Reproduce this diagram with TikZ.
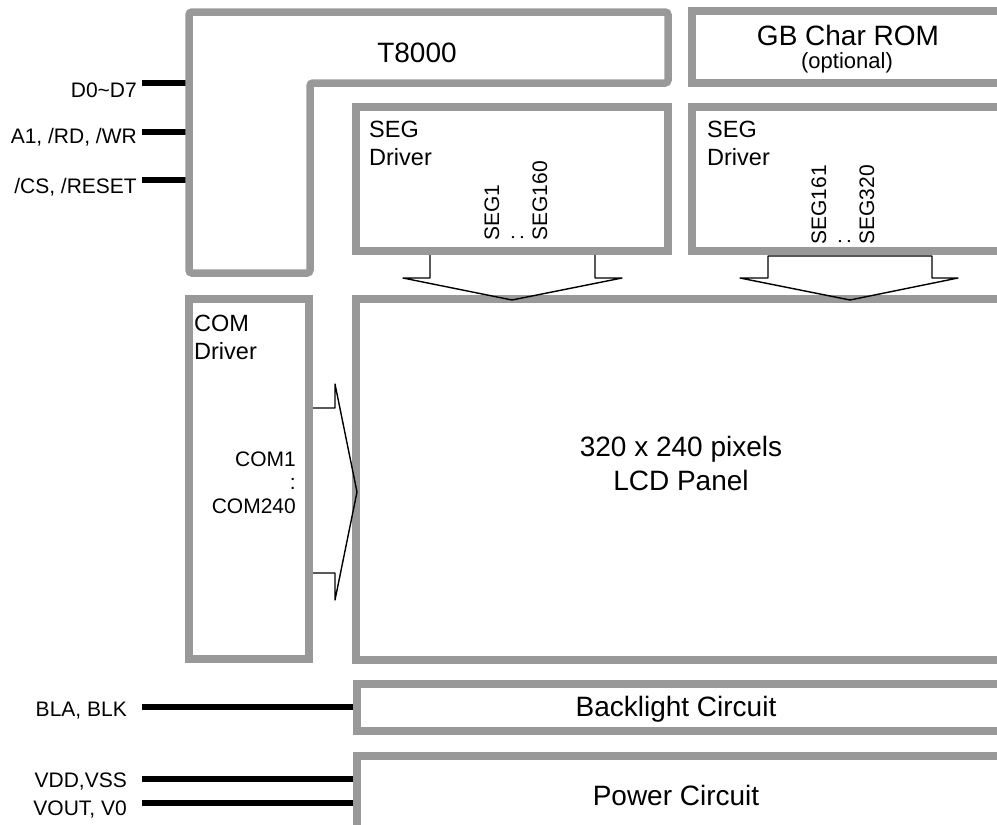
\documentclass[tikz,border=0pt]{standalone}
\usepackage{fontspec}
\setmainfont{Liberation Sans}
\definecolor{boxgray}{HTML}{999999}
\begin{document}
\begin{tikzpicture}[x=1pt,y=-1pt,
  blk/.style={draw=boxgray, line width=7.5pt},
  pin/.style={draw=black, line width=6pt},
  arr/.style={draw=black, line width=1.4pt, line join=round},
  big/.style={font=\fontsize{28}{34}\selectfont, inner sep=0pt, align=center},
  mid/.style={font=\fontsize{23.5}{28}\selectfont, inner sep=0pt, align=left},
  sm/.style={font=\fontsize{21}{23.5}\selectfont, inner sep=0pt}]
\useasboundingbox (0,0) rectangle (997,825);
\clip (0,0) rectangle (997,825);

% pin lines
\coordinate (pD) at (142,83);  \coordinate (tD) at (189,83);
\coordinate (pA) at (142,132); \coordinate (tA) at (189,132);
\coordinate (pC) at (142,180); \coordinate (tC) at (189,180);
\coordinate (pB) at (142,707); \coordinate (tB) at (357,707);
\coordinate (pV) at (142,779); \coordinate (tV) at (357,779);
\coordinate (pO) at (142,803); \coordinate (tO) at (357,803);
\draw[pin] (pD) -- (tD);
\draw[pin] (pA) -- (tA);
\draw[pin] (pC) -- (tC);
\draw[pin] (pB) -- (tB);
\draw[pin] (pV) -- (tV);
\draw[pin] (pO) -- (tO);

% boxes
\draw[blk, rounded corners=3pt] (189,12) -- (668,12) -- (668,83) -- (310,83) -- (310,273) -- (189,273) -- cycle;
\draw[blk] (692,11) rectangle (1010,83);
\draw[blk] (356,107) rectangle (668,251);
\draw[blk] (692,107) rectangle (1010,251);
\draw[blk] (189,299) rectangle (309,659);
\draw[blk] (356,299) rectangle (1010,660);
\draw[blk] (357,684) rectangle (1010,731);
\draw[blk] (357,756) rectangle (1010,829);

% arrows
\draw[arr] (430,255) -- (430,278) -- (403,278) -- (512,300) -- (622,278) -- (595,278) -- (595,255);
\draw[arr] (768,256) -- (768,278) -- (740,278) -- (850,300) -- (958,278) -- (932,278) -- (932,256) -- cycle;
\draw[arr] (313,408) -- (335,408) -- (335,384) -- (357,492) -- (335,600) -- (335,573) -- (313,573);

% texts
\node[big] (t8000) at (417,53) {T8000};
\node[big] (gb) at (848,35) {GB Char ROM};
\node[sm, font=\fontsize{22}{24}\selectfont] (opt) at (847,63) {(optional)};
\node[mid, anchor=north west] (seg1t) at (369,121) {SEG\\Driver};
\node[mid, anchor=north west] (seg2t) at (707,121) {SEG\\Driver};
\node[mid, anchor=north west] (comt) at (194,315) {COM\\Driver};
\node[sm, font=\fontsize{21}{24}\selectfont, align=left, rotate=90] (seg1l) at (516,201) {SEG1\\:\\SEG160};
\node[sm, font=\fontsize{21}{24}\selectfont, align=left, rotate=90] (seg2l) at (843,205) {SEG161\\:\\SEG320};
\node[sm, align=right, anchor=east] (coml) at (296,482.5) {COM1\\:\\COM240};
\node[big] (lcd) at (681,463) {320 x 240 pixels\\LCD Panel};
\node[big] (bl) at (676,709) {Backlight Circuit};
\node[big] (pw) at (676,795) {Power Circuit};

\node[sm, anchor=base east] (lD) at (137,97) {D0\textasciitilde D7};
\node[sm, anchor=base east] (lA) at (137,143) {A1, /RD, /WR};
\node[sm, anchor=base east] (lC) at (137,193) {/CS, /RESET};
\node[sm, anchor=base east] (lB) at (127,716) {BLA, BLK};
\node[sm, anchor=base east] (lV) at (127,787) {VDD,VSS};
\node[sm, anchor=base east] (lO) at (127,815) {VOUT, V0};
\end{tikzpicture}
\end{document}
